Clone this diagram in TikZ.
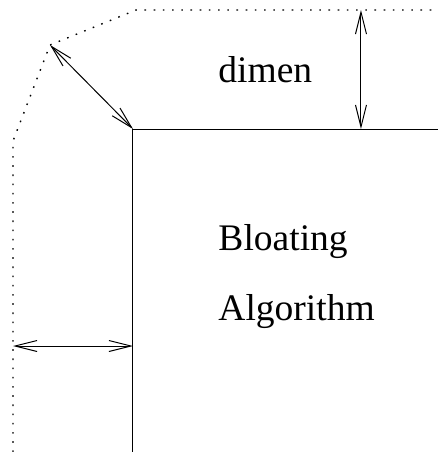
\documentclass[tikz,border=0pt]{standalone}
\usepackage{fontspec}
\setmainfont{Liberation Serif}
\usetikzlibrary{arrows.meta}
\begin{document}
\begin{tikzpicture}[x=0.5pt, y=-0.5pt, line width=0.5pt,
  dimarrow/.style={{Straight Barb[length=11pt,width=5.5pt]}-{Straight Barb[length=11pt,width=5.5pt]}},
  bloated/.style={line width=0.7pt, dash pattern=on 0.8pt off 3.8pt},
  lbl/.style={anchor=base west, inner sep=0pt, font=\fontsize{18.75}{20}\selectfont}]
  \useasboundingbox (0,0) rectangle (438,452);
  % original shape
  \coordinate (corner) at (133,129);
  \coordinate (cbot) at (133,452);
  \coordinate (cright) at (438,129);
  \draw (cbot) -- (corner) -- (cright);
  % bloated outline
  \coordinate (bbot) at (13,452);
  \coordinate (bleft) at (13,141);
  \coordinate (bdiag) at (50,45);
  \coordinate (btop) at (136,10);
  \coordinate (bright) at (438,10);
  \draw[bloated] (bbot) -- (bleft) -- (bdiag) -- (btop) -- (bright);
  % dimensions
  \coordinate (vtop) at (361,10);
  \coordinate (vbot) at (361,129);
  \coordinate (hleft) at (13,346);
  \coordinate (hright) at (133,346);
  \draw[dimarrow] (vtop) -- (vbot);
  \draw[dimarrow] (bdiag) -- (corner);
  \draw[dimarrow] (hleft) -- (hright);
  \node[lbl] (dimen) at (218,82) {dimen};
  \node[lbl] (bloat) at (218,250) {Bloating};
  \node[lbl] (algo) at (218,320) {Algorithm};
\end{tikzpicture}
\end{document}
